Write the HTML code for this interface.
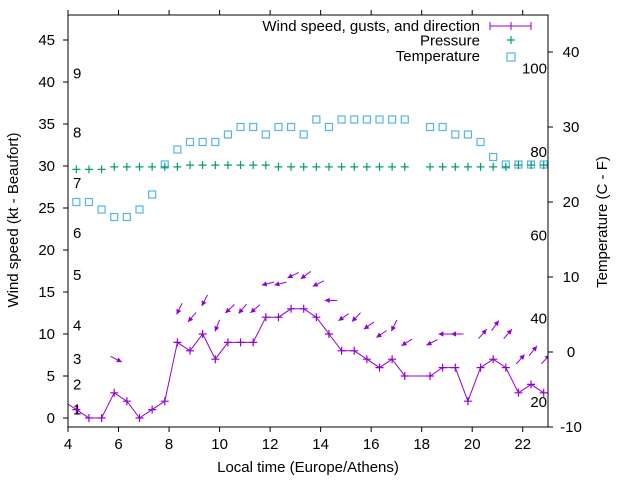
<!DOCTYPE html>
<html><head><meta charset="utf-8"><style>
html,body{margin:0;padding:0;background:#fff;}
svg{display:block;font-family:"Liberation Sans",Arial,sans-serif;}
</style></head><body>
<svg id="chart" width="640" height="480" viewBox="0 0 640 480">
<rect x="0" y="0" width="640" height="480" fill="#fff"/>
<defs><clipPath id="plotclip"><rect x="68" y="15" width="480" height="412"/></clipPath></defs>
<g id="axes"></g>
<g id="marks" clip-path="url(#plotclip)"></g>
<rect x="68" y="15" width="480" height="412" fill="none" stroke="#000" stroke-width="1"/>
<text x="308" y="472" font-size="15" text-anchor="middle">Local time (Europe/Athens)</text>
<text transform="translate(18,220) rotate(-90)" font-size="15" text-anchor="middle">Wind speed (kt - Beaufort)</text>
<text transform="translate(607,222) rotate(-90)" font-size="15" text-anchor="middle">Temperature (C - F)</text>
<g id="legend">
  <g>
    <text x="480" y="31" font-size="15" text-anchor="end">Wind speed, gusts, and direction</text>
    <path d="M490,26 H531 M490,22 V30 M531,22 V30 M507,26 H515 M511,22 V30" stroke="#9400d3" stroke-width="1" fill="none"/>
  </g>
  <g>
    <text x="480" y="45.5" font-size="15" text-anchor="end">Pressure</text>
    <path d="M507,40 H515 M511,36 V44" stroke="#009e73" stroke-width="1.2"/>
  </g>
  <g>
    <text x="480" y="61" font-size="15" text-anchor="end">Temperature</text>
    <rect x="507" y="53" width="8" height="8" fill="none" stroke="#56b4e9" stroke-width="1.2"/>
  </g>
</g>
</svg>
<script>
const times = [3.83,4.33,4.83,5.33,5.83,6.33,6.83,7.33,7.83,8.33,8.83,9.33,9.83,10.33,10.83,11.33,11.83,12.33,12.83,13.33,13.83,14.33,14.83,15.33,15.83,16.33,16.83,17.33,18.33,18.83,19.33,19.83,20.33,20.83,21.33,21.83,22.33,22.83];
const windSpeed = [2,1,0,0,3,2,0,1,2,9,8,10,7,9,9,9,12,12,13,13,12,10,8,8,7,6,7,5,5,6,6,2,6,7,6,3,4,3];
const gustSpeed = [null,null,null,null,7,null,null,null,null,13,12,14,11,13,13,13,16,16,17,17,16,14,12,12,11,10,11,9,9,10,10,null,10,11,10,7,8,7];
const windDir = [null,null,null,null,297,null,null,null,null,26,40,27,21,47,40,50,76,76,64,53,63,90,55,44,54,56,26,58,63,90,90,null,221,216,221,221,219,223];
const pressure = [null,29.6,29.6,29.6,29.9,29.9,29.9,29.9,29.9,29.9,30.1,30.1,30.1,30.1,30.1,30.1,30.1,29.9,29.9,29.9,29.9,29.9,29.9,29.9,29.9,29.9,29.9,29.9,29.9,29.9,29.9,29.9,29.9,29.9,29.9,30.1,30.1,30.1];
const temperature = [null,20,20,19,18,18,19,21,25,27,28,28,28,29,30,30,29,30,30,29,31,30,31,31,31,31,31,31,30,30,29,29,28,26,25,25,25,25];
const xTicks = [4,6,8,10,12,14,16,18,20,22];
const yTicks = [0,5,10,15,20,25,30,35,40,45];
const y2Ticks = [-10,0,10,20,30,40];
const beaufortKt = [1,4,7,11,17,22,28,34,41];
const beaufortLabels = ["1","2","3","4","5","6","7","8","9"];
const fahrenheitLabels = [20,40,60,80,100];

const NS = "http://www.w3.org/2000/svg";
const X0=68, X1=548, YT=15, YB=427;
function xp(t){ return X0 + (t-4)*(X1-X0)/19; }
function yL(v){ return 418 - 8.4*v; }
function yR(c){ return 352 - 7.5*c; }
function mk(tag, attrs, parent){ const e=document.createElementNS(NS,tag); for(const k in attrs) e.setAttribute(k, attrs[k]); parent.appendChild(e); return e; }
const axes=document.getElementById('axes'), marks=document.getElementById('marks');

xTicks.forEach(t=>{
  const x=xp(t);
  const tk=mk('path',{d:`M${x},${YB} V${YB+5} M${x},${YT} V${YT-5}`,stroke:'#000','stroke-width':1},axes);
  
  
  const lb=mk('text',{x:x,y:449,'font-size':15,'text-anchor':'middle'},axes);
  lb.textContent=t;
  
  
});
yTicks.forEach(v=>{
  const y=yL(v);
  const tk=mk('path',{d:`M${X0-5},${y} H${X0}`,stroke:'#000','stroke-width':1},axes);
  
  
  const lb=mk('text',{x:55,y:y+5,'font-size':15,'text-anchor':'end'},axes);
  lb.textContent=v;
  
  
});
y2Ticks.forEach(v=>{
  const y=yR(v);
  const tk=mk('path',{d:`M${X1},${y} H${X1+5}`,stroke:'#000','stroke-width':1},axes);
  
  
  const lb=mk('text',{x:571,y:y+5,'font-size':15,'text-anchor':'middle'},axes);
  lb.textContent=v;
  
  
});
beaufortKt.forEach((k,i)=>{
  const lb=mk('text',{x:73,y:yL(k)+5,'font-size':15},axes);
  lb.textContent=beaufortLabels[i];
  
  
});
fahrenheitLabels.forEach(f=>{
  const c=(f-32)*5/9;
  const lb=mk('text',{x:547,y:yR(c)+5,'font-size':15,'text-anchor':'end'},axes);
  lb.textContent=f;
  
  
});

// temperature squares
temperature.forEach((c,i)=>{
  if(c===null) return;
  const r=mk('rect',{x:xp(times[i])-3.5,y:yR(c)-3.5,width:7,height:7,fill:'none',stroke:'#56b4e9','stroke-width':1.2},marks);
  
  
});
// pressure plus
pressure.forEach((p,i)=>{
  if(p===null) return;
  const x=xp(times[i]), y=yL(p);
  const e=mk('path',{d:`M${x-4},${y} H${x+4} M${x},${y-4} V${y+4}`,stroke:'#009e73','stroke-width':1.2},marks);
  
  
});
// wind line (break at gap > 0.6h)
let d='';
windSpeed.forEach((v,i)=>{
  const x=xp(times[i]), y=yL(v);
  d += (i===0 ? 'M' : 'L') + x.toFixed(1)+','+y.toFixed(1)+' ';
});
const wl=mk('path',{d:d,fill:'none',stroke:'#9400d3','stroke-width':1},marks);


windSpeed.forEach((v,i)=>{
  const x=xp(times[i]), y=yL(v);
  const e=mk('path',{d:`M${x-4},${y} H${x+4} M${x},${y-4} V${y+4}`,stroke:'#9400d3','stroke-width':1.2},marks);
  
  
});
// gust arrows
gustSpeed.forEach((g,i)=>{
  if(g===null || windDir[i]===null) return;
  const cx=xp(times[i])+2, cy=yL(g);
  const b=(windDir[i]+180)*Math.PI/180;
  const ux=Math.sin(b), uy=-Math.cos(b), L=12.5;
  const tx=cx-ux*L/2, ty=cy-uy*L/2, hx=cx+ux*L/2, hy=cy+uy*L/2;
  const grp=mk('g',{},marks);
  
  
  mk('line',{x1:tx,y1:ty,x2:hx,y2:hy,stroke:'#9400d3','stroke-width':1},grp);
  const px=-uy, py=ux, hl=5, hw=2.6;
  const bx=hx-ux*hl, by=hy-uy*hl;
  mk('polygon',{points:`${hx},${hy} ${bx+px*hw},${by+py*hw} ${bx-px*hw},${by-py*hw}`,fill:'#9400d3'},grp);
});
</script>
</body></html>
